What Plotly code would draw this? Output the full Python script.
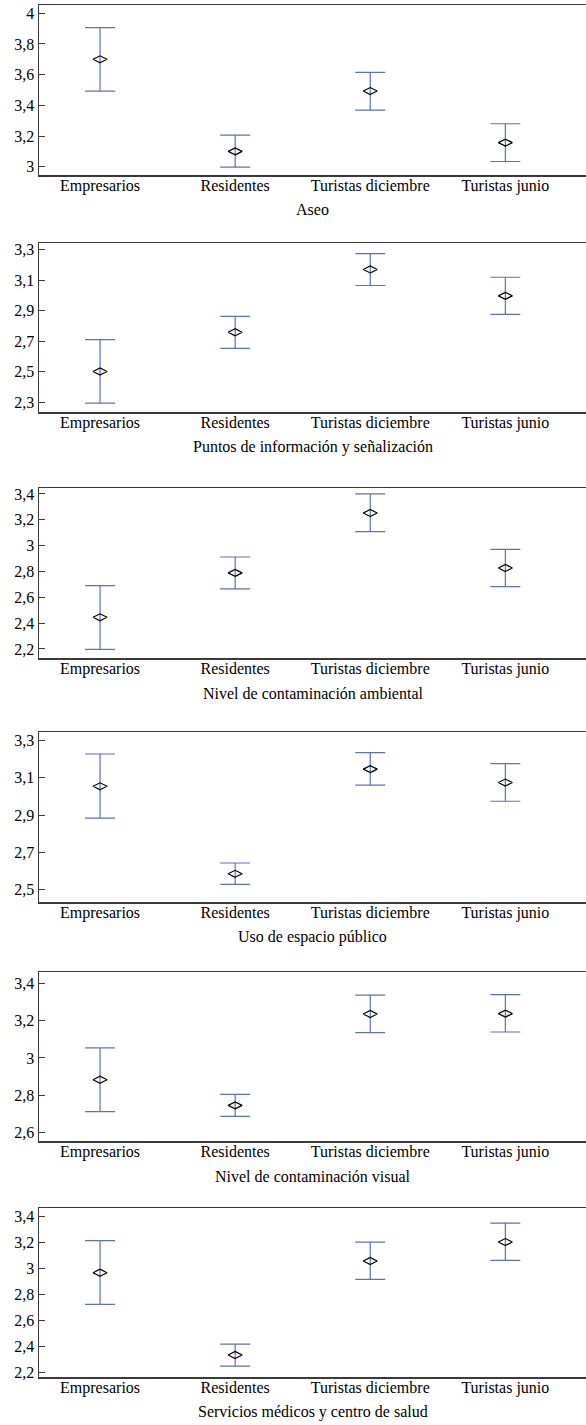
import plotly.graph_objects as go

categories = ["Empresarios", "Residentes", "Turistas diciembre", "Turistas junio"]

titles = [
    "Aseo",
    "Puntos de información y señalización",
    "Nivel de contaminación ambiental",
    "Uso de espacio público",
    "Nivel de contaminación visual",
    "Servicios médicos y centro de salud",
]

aseo_mean = [3.70, 3.10, 3.493, 3.157]
aseo_low = [3.493, 2.997, 3.369, 3.034]
aseo_high = [3.906, 3.206, 3.615, 3.280]

info_mean = [2.502, 2.759, 3.170, 2.997]
info_low = [2.295, 2.654, 3.065, 2.876]
info_high = [2.710, 2.863, 3.274, 3.119]

amb_mean = [2.445, 2.789, 3.253, 2.827]
amb_low = [2.197, 2.665, 3.108, 2.683]
amb_high = [2.690, 2.912, 3.400, 2.971]

esp_mean = [3.054, 2.585, 3.146, 3.074]
esp_low = [2.884, 2.528, 3.060, 2.974]
esp_high = [3.227, 2.643, 3.234, 3.176]

vis_mean = [2.883, 2.745, 3.237, 3.239]
vis_low = [2.711, 2.686, 3.137, 3.140]
vis_high = [3.054, 2.804, 3.339, 3.341]

med_mean = [2.964, 2.331, 3.054, 3.200]
med_low = [2.721, 2.246, 2.913, 3.059]
med_high = [3.211, 2.415, 3.200, 3.346]

y_ranges = [
    [2.946, 4.054],
    [2.237, 3.343],
    [2.130, 3.446],
    [2.434, 3.345],
    [2.553, 3.463],
    [2.162, 3.462],
]
y_tick0 = [3.0, 2.3, 2.2, 2.5, 2.6, 2.2]

panels = [
    (aseo_mean, aseo_low, aseo_high),
    (info_mean, info_low, info_high),
    (amb_mean, amb_low, amb_high),
    (esp_mean, esp_low, esp_high),
    (vis_mean, vis_low, vis_high),
    (med_mean, med_low, med_high),
]

W, H = 586, 1425
# panel pixel extents (top, bottom)
px_extents = [(5, 175), (243, 412), (488, 658), (732, 902), (972, 1141), (1208, 1377)]

fig = go.Figure()
FONT = "Liberation Serif, Times New Roman, serif"
AXIS_COL = "#3a3a3a"
ERR_COL = "#5b6fc2"

layout = dict(
    width=W, height=H,
    margin=dict(l=39, r=0, t=0, b=0),
    paper_bgcolor="white", plot_bgcolor="white",
    showlegend=False,
    separators=", ",
    font=dict(family=FONT, size=16, color="black"),
    annotations=[],
)

for i, ((m, lo, hi), title) in enumerate(zip(panels, titles)):
    n = i + 1
    xa = "x" if n == 1 else f"x{n}"
    ya = "y" if n == 1 else f"y{n}"
    plus = [h - v for h, v in zip(hi, m)]
    minus = [v - l for v, l in zip(m, lo)]
    fig.add_trace(go.Scatter(
        x=categories, y=m, xaxis=xa, yaxis=ya, mode="markers",
        marker=dict(symbol="diamond-wide-open", size=10, color="black",
                    line=dict(width=1.2, color="black")),
        error_y=dict(type="data", symmetric=False, array=plus, arrayminus=minus,
                     color=ERR_COL, thickness=1.2, width=15),
        hoverinfo="skip",
    ))
    top, bot = px_extents[i]
    ydom = [1 - bot / H, 1 - top / H]
    layout[f"xaxis{'' if n == 1 else n}"] = dict(
        type="category", categoryorder="array", categoryarray=categories,
        range=[-0.452, 3.597], domain=[0, 1], anchor=ya,
        showline=True, linecolor=AXIS_COL, linewidth=1.5, mirror=True,
        showgrid=False, zeroline=False, ticks="",
        ticklabelstandoff=-5,
        tickfont=dict(size=16, color="black"),
        automargin=False, fixedrange=True,
    )
    layout[f"yaxis{'' if n == 1 else n}"] = dict(
        range=y_ranges[i], domain=ydom, anchor=xa,
        tick0=y_tick0[i], dtick=0.2,
        showline=True, linecolor=AXIS_COL, linewidth=1.5, mirror=False,
        showgrid=False, zeroline=False,
        ticks="inside", ticklen=6, tickcolor=AXIS_COL, tickwidth=1,
        tickfont=dict(size=16, color="black"),
        automargin=False, fixedrange=True,
    )
    layout["annotations"].append(dict(
        text=title, xref=f"{xa} domain", yref=f"{ya} domain",
        x=0.5, y=0, yshift=-35, xanchor="center", yanchor="middle",
        showarrow=False, font=dict(size=16, color="black"),
    ))

fig.update_layout(**layout)
fig.write_html(
    "out.html",
    config={"displayModeBar": False, "staticPlot": True},
    post_script="document.body.style.margin='0';document.body.style.overflow='hidden';",
)
